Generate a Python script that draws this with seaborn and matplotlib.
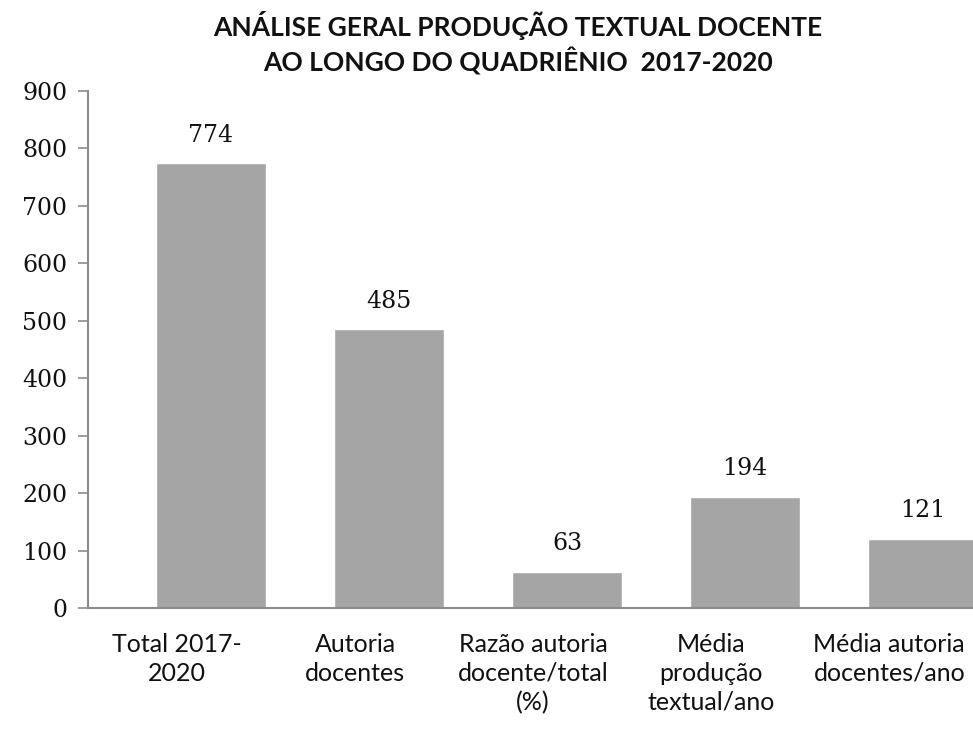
import numpy as np
import pandas as pd
import seaborn as sns
import matplotlib.pyplot as plt

sns.set_theme(style='white')

# Dados
categorias = ['Total 2017-\n2020', 'Autoria\ndocentes', 'Razão autoria\ndocente/total\n(%)',
              'Média\nprodução\ntextual/ano', 'Média autoria\ndocentes/ano']
valores = [774, 485, 63, 194, 121]
y_ticks = [0, 100, 200, 300, 400, 500, 600, 700, 800, 900]

df = pd.DataFrame({'categoria': categorias, 'valor': valores})

fig = plt.figure(figsize=(9.73, 7.31), dpi=100)
ax = fig.add_axes([0.0904, 0.168, 1 - 0.0904, 0.7075])

sns.barplot(data=df, x='categoria', y='valor', color='#a5a5a5', saturation=1,
            width=0.62, ax=ax)

# Rótulos de dados acima das barras
for patch, v in zip(ax.patches, valores):
    ax.annotate(f'{v}', (patch.get_x() + patch.get_width() / 2, v),
                xytext=(0, 12), textcoords='offset points', ha='center', va='bottom',
                fontsize=17, family='DejaVu Serif', color='#111111')

# Os rótulos das categorias ficam à esquerda das barras (estilo Excel)
desloc = 0.19
ax.set_xticks(np.arange(len(categorias)) - desloc)
ax.set_xticklabels(categorias, fontsize=18, family='Lato', color='#111111',
                   linespacing=1.3)
ax.set_xlim(-0.5 - desloc, 4.28)
ax.set_ylim(0, 900)
ax.set_yticks(y_ticks)
ax.set_yticklabels([str(t) for t in y_ticks], fontsize=17, family='DejaVu Serif',
                   color='#111111')
ax.set_xlabel('')
ax.set_ylabel('')

for s in ['top', 'right']:
    ax.spines[s].set_visible(False)
for s in ['left', 'bottom']:
    ax.spines[s].set_color('#8c8c8c')
    ax.spines[s].set_linewidth(1.5)
ax.tick_params(axis='y', left=True, length=7, width=1.2, color='#8c8c8c', pad=8)
ax.tick_params(axis='x', bottom=False, pad=12)

fig.text(0.532, 0.985, 'ANÁLISE GERAL PRODUÇÃO TEXTUAL DOCENTE\nAO LONGO DO QUADRIÊNIO  2017-2020',
         ha='center', va='top', fontsize=19, fontweight='bold', family='Lato',
         color='#111111', linespacing=1.3)

plt.savefig('out.png', dpi=100)
